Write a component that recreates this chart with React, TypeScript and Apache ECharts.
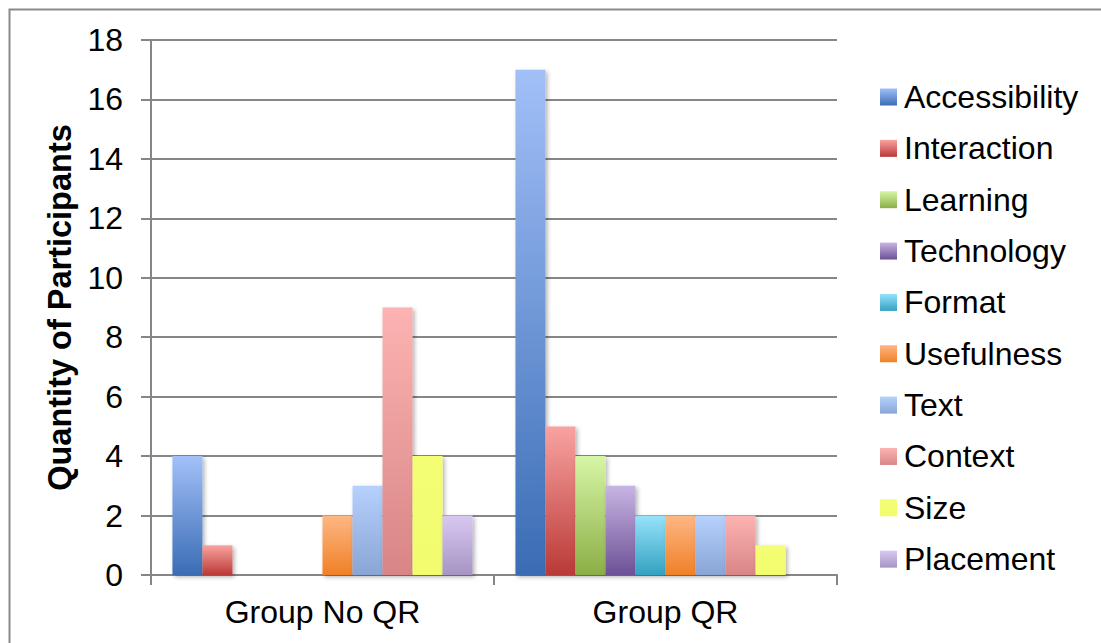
import React, { useEffect, useRef } from "react";
import * as echarts from "echarts";

const categories = ["Group No QR", "Group QR"];
const seriesNames = [
  "Accessibility",
  "Interaction",
  "Learning",
  "Technology",
  "Format",
  "Usefulness",
  "Text",
  "Context",
  "Size",
  "Placement",
];
const accessibility = [4, 17];
const interaction = [1, 5];
const learning = [0, 4];
const technology = [0, 3];
const format = [0, 2];
const usefulness = [2, 2];
const text = [3, 2];
const context = [9, 2];
const size = [4, 1];
const placement = [2, 0];
const seriesValues = [
  accessibility,
  interaction,
  learning,
  technology,
  format,
  usefulness,
  text,
  context,
  size,
  placement,
];
const yTicks = [0, 2, 4, 6, 8, 10, 12, 14, 16, 18];

const gradients: [string, string][] = [
  ["#a2c0f8", "#3a6cb4"],
  ["#f9a3a1", "#ba3936"],
  ["#d6f6a7", "#8cae45"],
  ["#c7b5e3", "#6d5196"],
  ["#97e2fb", "#33a2c1"],
  ["#fdb784", "#f08027"],
  ["#b6d1fd", "#89a5d5"],
  ["#fdb3b3", "#d88585"],
  ["#f4fe74", "#f2fc6e"],
  ["#d8c8f1", "#a695c3"],
];

const FONT = "'Liberation Sans', Arial, sans-serif";

export default function App() {
  const ref = useRef<HTMLDivElement>(null);
  useEffect(() => {
    if (!ref.current) return;
    const chart = echarts.init(ref.current, null, { renderer: "svg" });
    const series = seriesNames.map((name, i) => ({
      name,
      type: "bar" as const,
      data: seriesValues[i],
      barGap: "0%",
      barCategoryGap: "12.5%",
      itemStyle: {
        color: new echarts.graphic.LinearGradient(0, 0, 0, 1, [
          { offset: 0, color: gradients[i][0] },
          { offset: 1, color: gradients[i][1] },
        ]),
        shadowColor: "rgba(0,0,0,0.3)",
        shadowBlur: 4,
        shadowOffsetX: 2,
        shadowOffsetY: 2,
      },
    }));
    chart.setOption({
      animation: false,
      backgroundColor: "#ffffff",
      textStyle: { fontFamily: FONT },
      graphic: [
        {
          type: "rect",
          shape: { x: 9.5, y: 9.5, width: 1200, height: 1000 },
          style: { fill: "none", stroke: "#8a8a8a", lineWidth: 2 },
          silent: true,
        },
      ],
      legend: {
        orient: "vertical",
        left: 880,
        top: 81,
        padding: 0,
        itemWidth: 17,
        itemHeight: 17,
        itemGap: 19.35,
        icon: "rect",
        data: seriesNames,
        textStyle: { fontSize: 32, color: "#000", fontFamily: FONT, padding: [0, 0, 0, 2] },
      },
      grid: { left: 151, right: 264, top: 40, bottom: 68, containLabel: false },
      xAxis: {
        type: "category",
        data: categories,
        axisLine: { show: true, lineStyle: { color: "#868686", width: 2 } },
        axisTick: { show: true, length: 10, lineStyle: { color: "#868686", width: 2 } },
        axisLabel: { fontSize: 32, color: "#000", margin: 21, fontFamily: FONT },
      },
      yAxis: {
        type: "value",
        min: 0,
        max: 18,
        interval: 2,
        name: "Quantity of Participants",
        nameLocation: "middle",
        nameGap: 73,
        nameRotate: 90,
        nameTextStyle: { fontSize: 32.5, fontWeight: "bold", color: "#000", fontFamily: FONT },
        axisLine: { show: true, lineStyle: { color: "#868686", width: 2 } },
        axisTick: { show: true, length: 10, lineStyle: { color: "#868686", width: 2 } },
        axisLabel: {
          fontSize: 32,
          color: "#000",
          margin: 28,
          fontFamily: FONT,
          formatter: (v: number) => (yTicks.includes(v) ? String(v) : ""),
        },
        splitLine: { show: true, lineStyle: { color: "#868686", width: 2 } },
      },
      series,
    });
    return () => chart.dispose();
  }, []);
  return (
    <div
      ref={ref}
      style={{ position: "fixed", left: 0, top: 0, width: 1101, height: 643 }}
    />
  );
}
